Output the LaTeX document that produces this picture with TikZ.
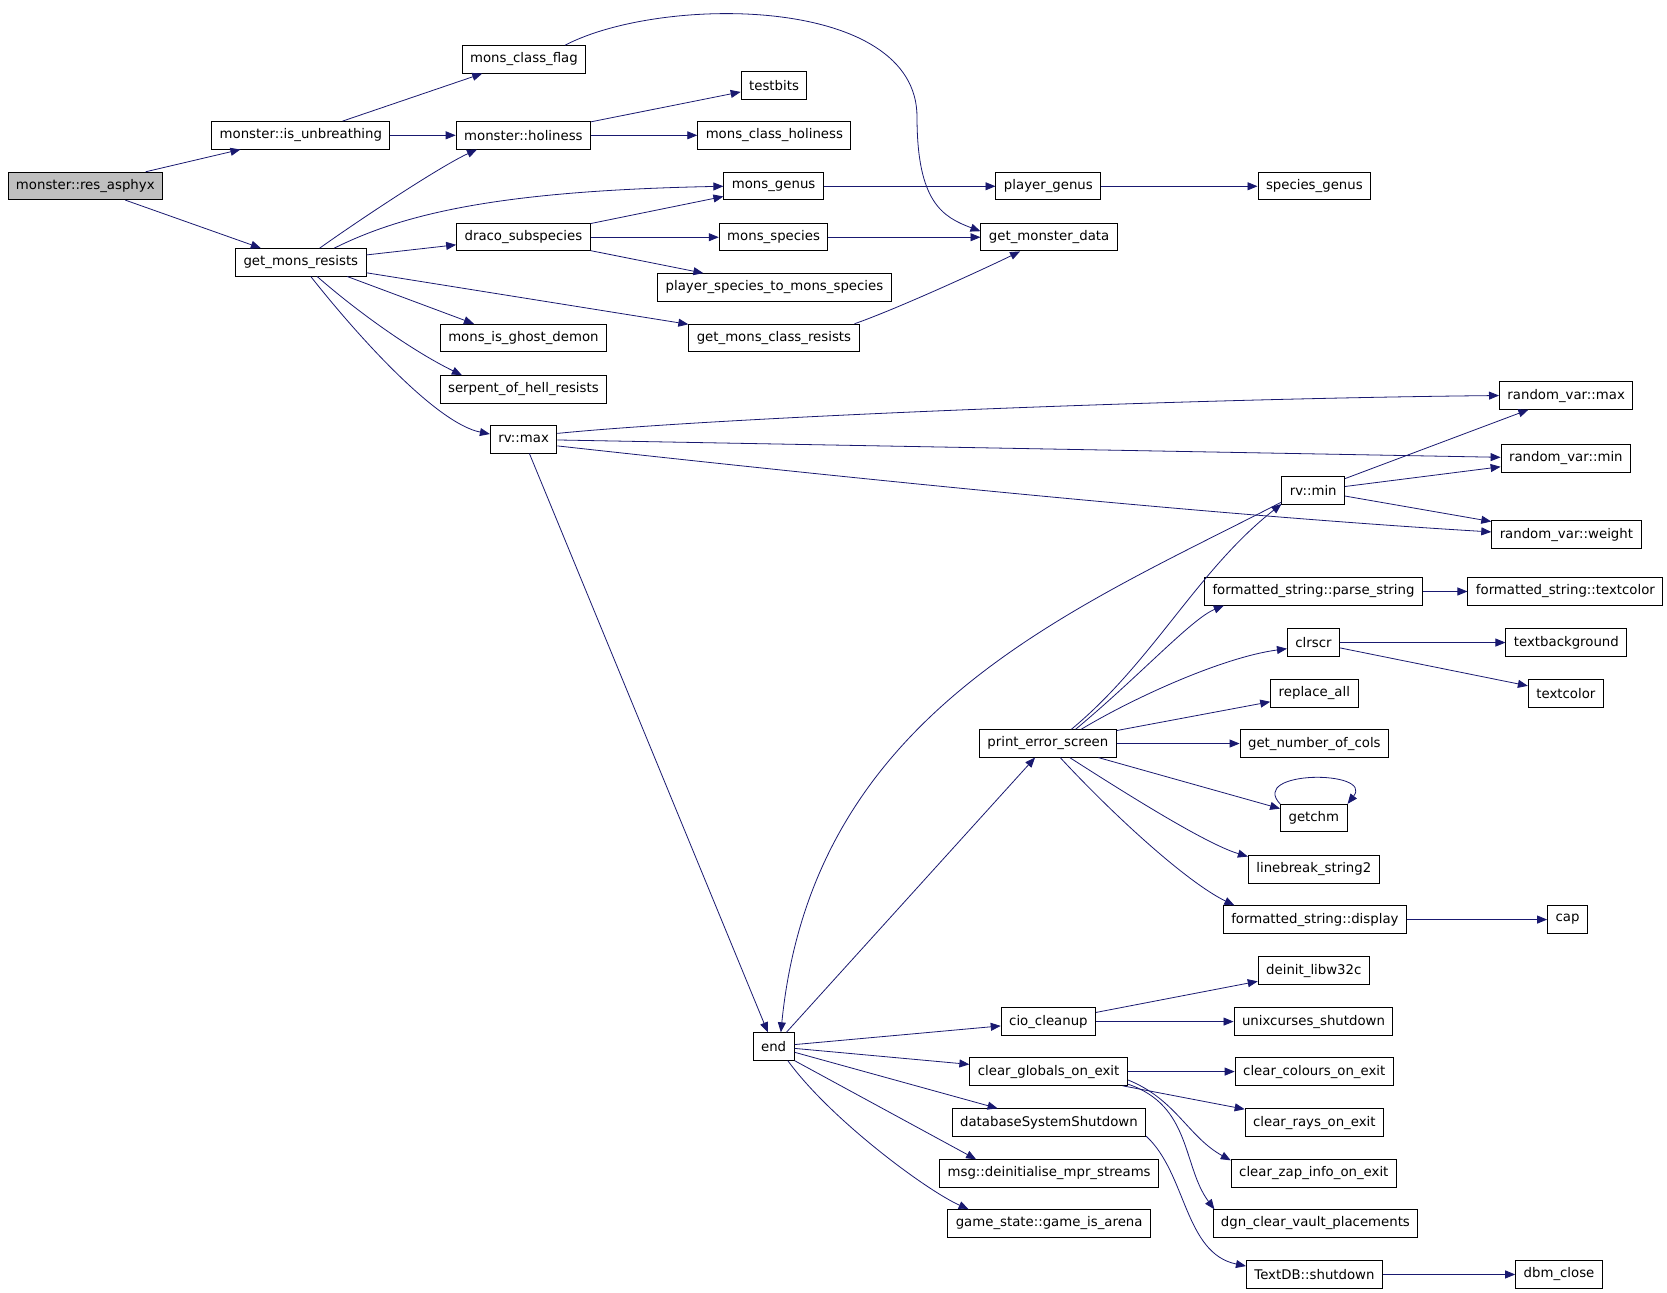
\documentclass[tikz,border=0pt]{standalone}
\usepackage{fontspec}
\setmainfont{DejaVu Sans}
\usetikzlibrary{arrows.meta}
\definecolor{midnightblue}{HTML}{191970}

\begin{document}
\begin{tikzpicture}[
  x=0.8pt, y=-0.8pt,
  every node/.style = {
    shape=rectangle,
    draw,
    line width=0.75pt,
    inner xsep=6pt,
    inner ysep=0pt,
    minimum height=20.6pt,
    font=\fontsize{10pt}{12pt}\selectfont
  },
  call/.style = {
    draw=midnightblue,
    line width=0.6pt,
    -{Triangle[length=7.5pt,width=6pt]}
  }
]
\fill[white] (0,0) rectangle (1567,1214.5);
\useasboundingbox (0,0) rectangle (1567,1214.5);

\node[fill=black!25] (asphyx) at (80.2,174.8) {monster::res\_asphyx};
\node (unbr) at (282.8,127.2) {monster::is\_unbreathing};
\node (mcf) at (492.5,55.8) {mons\_class\_flag};
\node (hol) at (492,127.2) {monster::holiness};
\node (testbits) at (727.6,80.2) {testbits};
\node (mch) at (727.9,127.2) {mons\_class\_holiness};
\node (gmr) at (282.8,246.6) {get\_mons\_resists};
\node (genus) at (727.2,175.1) {mons\_genus};
\node (pgenus) at (985.5,175.1) {player\_genus};
\node (sgenus) at (1235.5,175.1) {species\_genus};
\node (draco) at (492,223) {draco\_subspecies};
\node (species) at (727.2,223) {mons\_species};
\node (gmd) at (986.2,223) {get\_monster\_data};
\node (psms) at (728,270.1) {player\_species\_to\_mons\_species};
\node (ghost) at (492,317.7) {mons\_is\_ghost\_demon};
\node (gmcr) at (727.5,317.7) {get\_mons\_class\_resists};
\node (serpent) at (492,366) {serpent\_of\_hell\_resists};
\node (rvmax) at (492.2,413) {rv::max};
\node (rvxmax) at (1472.2,371.8) {random\_var::max};
\node (rvxmin) at (1471.9,431) {random\_var::min};
\node (rvmin) at (1234.5,461.1) {rv::min};
\node (rvweight) at (1472.4,502.5) {random\_var::weight};
\node (pstr) at (1234.7,556) {formatted\_string::parse\_string};
\node (fstc) at (1471.5,556) {formatted\_string::textcolor};
\node (clrscr) at (1234.7,604) {clrscr};
\node (tbg) at (1472.4,604) {textbackground};
\node (repl) at (1235.5,651.9) {replace\_all};
\node (tcol) at (1471.9,651.9) {textcolor};
\node (pes) at (985,698.8) {print\_error\_screen};
\node (gnc) at (1235.5,699) {get\_number\_of\_cols};
\node (getchm) at (1235,769) {getchm};
\node (lb) at (1235,817.2) {linebreak\_string2};
\node (disp) at (1236,864.4) {formatted\_string::display};
\node (cap) at (1473.5,864.4) {cap};
\node (deinit) at (1235,912.3) {deinit\_libw32c};
\node (cio) at (985.5,960.3) {cio\_cleanup};
\node (unix) at (1234.7,960.3) {unixcurses\_shutdown};
\node (end) at (727.2,983.7) {end};
\node (cgoe) at (985.7,1007.3) {clear\_globals\_on\_exit};
\node (colours) at (1235.4,1007.3) {clear\_colours\_on\_exit};
\node (dbss) at (986,1055.2) {databaseSystemShutdown};
\node (rays) at (1235.5,1055.2) {clear\_rays\_on\_exit};
\node (msg) at (986.2,1103.1) {msg::deinitialise\_mpr\_streams};
\node (zap) at (1235,1103.1) {clear\_zap\_info\_on\_exit};
\node (game) at (986.2,1150.1) {game\_state::game\_is\_arena};
\node (dgn) at (1236.5,1150.1) {dgn\_clear\_vault\_placements};
\node (textdb) at (1235.6,1198) {TextDB::shutdown};
\node (dbm) at (1465.5,1198) {dbm\_close};

\draw[call] (asphyx) -- (unbr);
\draw[call] (asphyx) -- (gmr);
\draw[call] (unbr) -- (mcf);
\draw[call] (unbr) -- (hol);
\draw[call] (mcf.19) .. controls +(90,-47) and +(0,-115) .. (862,110)
  .. controls (862,190) and (886,204) .. (gmd.175);
\draw[call] (hol) -- (testbits);
\draw[call] (hol) -- (mch);
\draw[call] (gmr.37) .. controls +(35,-25) and +(-35,16) .. (hol.197);
\draw[call] (gmr.23) .. controls +(70,-35) and +(-200,4) .. (genus.west);
\draw[call] (gmr) -- (draco);
\draw[call] (gmr) -- (gmcr);
\draw[call] (gmr.-17) -- (ghost.164);
\draw[call] (gmr.-41) .. controls +(40,35) and +(-45,-22) .. (serpent.167);
\draw[call] (gmr.-55) .. controls +(45,57) and +(-50,-10) .. (rvmax.171);
\draw[call] (draco) -- (genus);
\draw[call] (draco) -- (species);
\draw[call] (draco) -- (psms);
\draw[call] (genus) -- (pgenus);
\draw[call] (species) -- (gmd);
\draw[call] (pgenus) -- (sgenus);
\draw[call] (gmcr.10) .. controls +(40,-14) and +(-35,17) .. (gmd.206);
\draw[call] (rvmax.10) .. controls +(150,-15) and +(-300,3) .. (rvxmax.west);
\draw[call] (rvmax) -- (rvxmin);
\draw[call] (rvmax.-11) .. controls +(200,22) and +(-300,-18) .. (rvweight.178);
\draw[call] (rvmax) -- (end);
\draw[call] (rvmin) -- (rvxmax);
\draw[call] (rvmin) -- (rvxmin);
\draw[call] (rvmin) -- (rvweight);
\draw[call] (rvmin.200) .. controls +(-200,103) and +(30,-300) .. (end.63);
\draw[call] (end) -- (pes);
\draw[call] (pes.31) .. controls +(77,-64) and +(-79,62) .. (rvmin.203);
\draw[call] (pes.27) .. controls +(60,-50) and +(-30,12) .. (pstr.189);
\draw[call] (pes.23) .. controls +(50,-30) and +(-60,8) .. (clrscr.193);
\draw[call] (pes) -- (repl);
\draw[call] (pes) -- (gnc);
\draw[call] (pes) -- (getchm);
\draw[call] (getchm.north west) .. controls +(-30,-32) and +(25,-32) .. (getchm.north east);
\draw[call] (pes.-33) .. controls +(50,32) and +(-40,-12) .. (lb.169);
\draw[call] (pes.-49) .. controls +(50,54) and +(-45,-22) .. (disp.170);
\draw[call] (pstr) -- (fstc);
\draw[call] (clrscr) -- (tbg);
\draw[call] (clrscr) -- (tcol);
\draw[call] (disp) -- (cap);
\draw[call] (end) -- (cio);
\draw[call] (end) -- (cgoe);
\draw[call] (end) -- (dbss);
\draw[call] (end.south east) -- (msg.169);
\draw[call] (end.-45) .. controls +(40,55) and +(-40,-18) .. (game.170);
\draw[call] (cio) -- (deinit);
\draw[call] (cio) -- (unix);
\draw[call] (cgoe) -- (colours);
\draw[call] (cgoe) -- (rays);
\draw[call] (cgoe.-6) .. controls +(45,18) and +(-40,-22) .. (zap.171);
\draw[call] (cgoe.-9) .. controls +(60,20) and +(-30,-40) .. (dgn.172);
\draw[call] (dbss.-8) .. controls +(38,35) and +(-58,-12) .. (textdb.173);
\draw[call] (textdb) -- (dbm);

\end{tikzpicture}
\end{document}
